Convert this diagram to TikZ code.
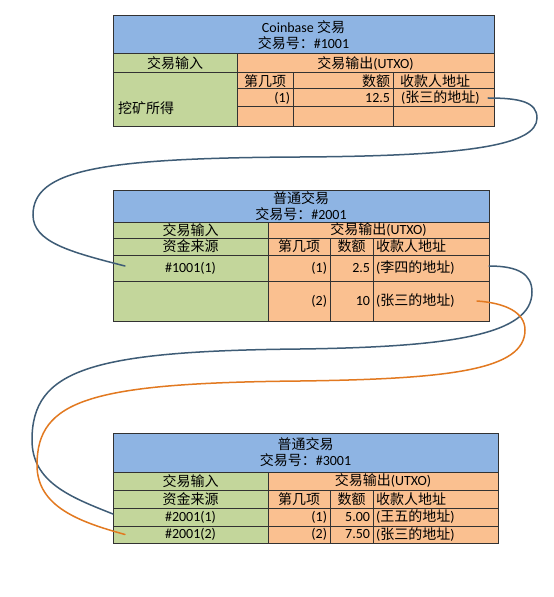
\documentclass[tikz,border=0pt]{standalone}
\usepackage{fontspec}
\setmainfont{Noto Sans CJK SC}
\newfontfamily\lat{Carlito}

\definecolor{hdrblue}{RGB}{142,180,227}
\definecolor{ingreen}{RGB}{195,214,155}
\definecolor{outorange}{RGB}{250,192,144}
\definecolor{gridline}{RGB}{50,50,50}
\definecolor{wireblue}{RGB}{62,92,118}
\definecolor{wireorange}{RGB}{226,121,32}

\tikzset{
  cell/.style={draw=gridline, line width=1bp, anchor=north west, inner sep=0pt,
    outer sep=0pt, font=\fontsize{14bp}{16bp}\selectfont},
  hd/.style={cell, fill=hdrblue, align=center},
  gc/.style={cell, fill=ingreen},
  oc/.style={cell, fill=outorange},
  rt/.style={oc, text width=#1, align=right, inner xsep=3bp},
  lf/.style={oc, text width=#1, align=left, inner xsep=3bp},
  wire/.style={line width=1.5bp, line cap=round},
}

\begin{document}
\begin{tikzpicture}[x=1bp,y=-1bp]
        \fill[white] (0,0) rectangle (554,597);
        \useasboundingbox (0,0) rectangle (554,597);
        % Coinbase transaction #1001
        \node[hd, minimum width=381bp, minimum height=38bp] (t1hd) at (113,16) {{\lat Coinbase} 交易\\交易号：{\lat\#1001}};
        \node[gc, minimum width=124bp, minimum height=19bp] (t1in) at (113,54) {交易输入};
        \node[gc, minimum width=124bp, minimum height=54bp] (t1src) at (113,73) {};
        \node[anchor=west, inner sep=0pt, font=\fontsize{14bp}{16bp}\selectfont] (t1mine) at ([xshift=5bp,yshift=-8bp]t1src.west) {挖矿所得};
        \node[oc, minimum width=257bp, minimum height=19bp] (t1out) at (237,54) {交易输出{\lat (UTXO)}};
        \node[oc, minimum width=56bp, minimum height=16bp] (t1no) at (237,73) {第几项};
        \node[rt=94bp, minimum height=16bp] (t1amt) at (293,73) {数额};
        \node[lf=87bp, inner xsep=7bp, minimum height=16bp] (t1addr) at (393,73) {收款人地址};
        \node[rt=50bp, minimum height=18bp] (t1n1) at (237,89) {\lat (1)};
        \node[rt=94bp, minimum height=18bp] (t1v1) at (293,89) {\lat 12.5};
        \node[lf=85bp, inner xsep=8bp, minimum height=18bp] (t1a1) at (393,89) {{\lat (}张三的地址{\lat )}};
        \node[oc, minimum width=56bp, minimum height=20bp] (t1n2) at (237,107) {};
        \node[oc, minimum width=100bp, minimum height=20bp] (t1v2) at (293,107) {};
        \node[oc, minimum width=101bp, minimum height=20bp] (t1a2) at (393,107) {};
        % transaction #2001
        \node[hd, minimum width=376bp, minimum height=32bp] (t2hd) at (113,190) {普通交易\\交易号：{\lat\#2001}};
        \node[gc, minimum width=155bp, minimum height=16bp] (t2in) at (113,222) {交易输入};
        \node[gc, minimum width=155bp, minimum height=17bp] (t2src) at (113,238) {资金来源};
        \node[gc, minimum width=155bp, minimum height=26bp] (t2s1) at (113,255) {\lat\#1001(1)};
        \node[gc, minimum width=155bp, minimum height=40bp] (t2s2) at (113,281) {};
        \node[oc, minimum width=221bp, minimum height=16bp] (t2out) at (268,222) {交易输出{\lat (UTXO)}};
        \node[oc, minimum width=62bp, minimum height=17bp] (t2no) at (268,238) {第几项};
        \node[oc, minimum width=43bp, minimum height=17bp] (t2amt) at (330,238) {数额};
        \node[lf=110bp, minimum height=17bp] (t2addr) at (373,238) {收款人地址};
        \node[rt=56bp, minimum height=26bp] (t2n1) at (268,255) {\lat (1)};
        \node[rt=37bp, minimum height=26bp] (t2v1) at (330,255) {\lat 2.5};
        \node[lf=110bp, minimum height=26bp] (t2a1) at (373,255) {{\lat (}李四的地址{\lat )}};
        \node[rt=56bp, minimum height=40bp] (t2n2) at (268,281) {\lat (2)};
        \node[rt=37bp, minimum height=40bp] (t2v2) at (330,281) {\lat 10};
        \node[lf=110bp, minimum height=40bp] (t2a2) at (373,281) {{\lat (}张三的地址{\lat )}};
        % transaction #3001
        \node[hd, minimum width=385bp, minimum height=39bp] (t3hd) at (113,433) {普通交易\\交易号：{\lat\#3001}};
        \node[gc, minimum width=155bp, minimum height=18bp] (t3in) at (113,472) {交易输入};
        \node[gc, minimum width=155bp, minimum height=18bp] (t3src) at (113,490) {资金来源};
        \node[gc, minimum width=155bp, minimum height=18bp] (t3s1) at (113,508) {\lat\#2001(1)};
        \node[gc, minimum width=155bp, minimum height=17bp] (t3s2) at (113,526) {\lat\#2001(2)};
        \node[oc, minimum width=230bp, minimum height=18bp] (t3out) at (268,472) {交易输出{\lat (UTXO)}};
        \node[oc, minimum width=62bp, minimum height=18bp] (t3no) at (268,490) {第几项};
        \node[oc, minimum width=43bp, minimum height=18bp] (t3amt) at (330,490) {数额};
        \node[lf=119bp, minimum height=18bp] (t3addr) at (373,490) {收款人地址};
        \node[rt=56bp, minimum height=18bp] (t3n1) at (268,508) {\lat (1)};
        \node[rt=37bp, minimum height=18bp] (t3v1) at (330,508) {\lat 5.00};
        \node[lf=119bp, minimum height=18bp] (t3a1) at (373,508) {{\lat (}王五的地址{\lat )}};
        \node[rt=56bp, minimum height=17bp] (t3n2) at (268,526) {\lat (2)};
        \node[rt=37bp, minimum height=17bp] (t3v2) at (330,526) {\lat 7.50};
        \node[lf=119bp, minimum height=17bp] (t3a2) at (373,526) {{\lat (}张三的地址{\lat )}};
        % spent outputs
        \draw[wire, wireblue] ([xshift=-6bp]t1a1.east) .. controls (520,98) and (537,102) .. (537,118)
          .. controls (537,145) and (470,156) .. (300,157)
          .. controls (100,158) and (33,170) .. (33,215)
          .. controls (33,242) and (70,252) .. ([xshift=12bp,yshift=2bp]t2s1.west);
        \draw[wire, wireblue] ([yshift=2bp]t2a1.east) .. controls (518,266) and (532,274) .. (532,292)
          .. controls (532,335) and (450,347) .. (300,349)
          .. controls (90,351) and (32,370) .. (32,440)
          .. controls (32,482) and (70,497) .. ([yshift=3bp]t3s1.west);
        \draw[wire, wireorange] ([xshift=-12bp]t2a2.east) .. controls (505,303) and (525,312) .. (525,330)
          .. controls (525,370) and (450,379) .. (300,381)
          .. controls (90,383) and (37,400) .. (37,465)
          .. controls (37,507) and (80,522) .. ([xshift=12bp]t3s2.west);
\end{tikzpicture}
\end{document}
